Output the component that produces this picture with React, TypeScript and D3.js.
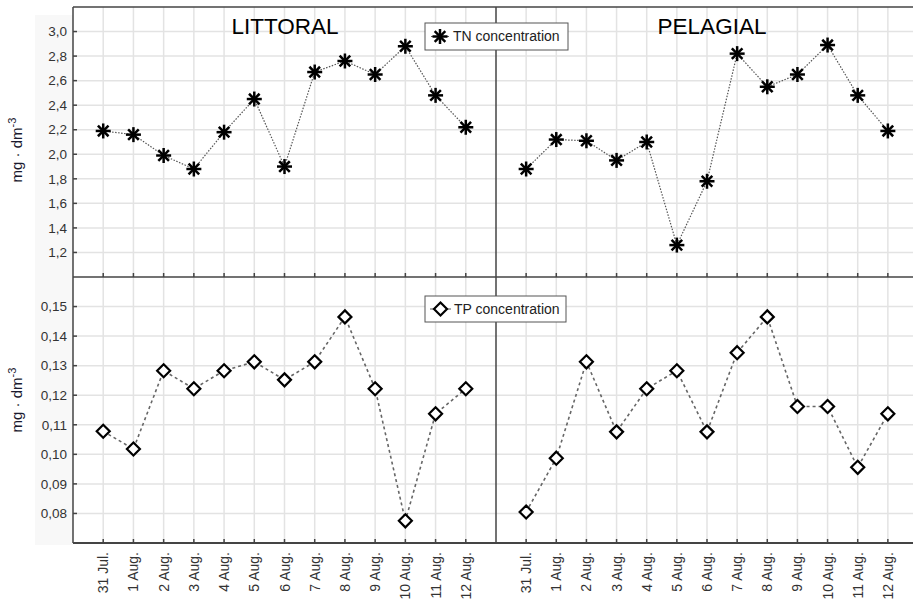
import React from "react";
import * as d3 from "d3";

const dates = ["31 Jul.", "1 Aug.", "2 Aug.", "3 Aug.", "4 Aug.", "5 Aug.", "6 Aug.", "7 Aug.", "8 Aug.", "9 Aug.", "10 Aug.", "11 Aug.", "12 Aug."];

const tnLittoral = [2.19, 2.16, 1.99, 1.88, 2.18, 2.45, 1.9, 2.67, 2.76, 2.65, 2.88, 2.48, 2.22];
const tnPelagial = [1.88, 2.12, 2.11, 1.95, 2.1, 1.26, 1.78, 2.82, 2.55, 2.65, 2.89, 2.48, 2.19];
const tpLittoral = [0.1078, 0.1018, 0.1283, 0.1222, 0.1283, 0.1313, 0.1252, 0.1313, 0.1465, 0.1222, 0.0775, 0.1137, 0.1222];
const tpPelagial = [0.0805, 0.0987, 0.1313, 0.1076, 0.1222, 0.1283, 0.1076, 0.1344, 0.1465, 0.1162, 0.1162, 0.0956, 0.1137];

const tnTicks = [1.2, 1.4, 1.6, 1.8, 2.0, 2.2, 2.4, 2.6, 2.8, 3.0];
const tpTicks = [0.08, 0.09, 0.1, 0.11, 0.12, 0.13, 0.14, 0.15];

const W = 913;
const H = 603;
const left = 73;
const mid = 496;
const right = 918;
const top = 7;
const split = 277;
const bottom = 543;

const FONT = "Arial, 'Liberation Sans', sans-serif";

const yTN = d3.scaleLinear().domain([1.0, 3.2]).range([split, top]);
const yTP = d3.scaleLinear().domain([0.07, 0.16]).range([bottom, split]);

const xLeft = d3.scalePoint<string>().domain(dates).range([left, mid]).padding(1);
const xRight = d3.scalePoint<string>().domain(dates).range([mid, right]).padding(1);

const fmt1 = (v: number) => v.toFixed(1).replace(".", ",");
const fmt2 = (v: number) => v.toFixed(2).replace(".", ",");

function Asterisk({ x, y }: { x: number; y: number }) {
  const r = 7.5;
  const angles = [0, 45, 90, 135];
  return (
    <g transform={`translate(${x},${y})`}>
      {angles.map((a) => {
        const rad = (a * Math.PI) / 180;
        return (
          <line
            key={a}
            x1={-r * Math.cos(rad)}
            y1={-r * Math.sin(rad)}
            x2={r * Math.cos(rad)}
            y2={r * Math.sin(rad)}
            stroke="#000"
            strokeWidth={2.5}
          />
        );
      })}
    </g>
  );
}

function Diamond({ x, y }: { x: number; y: number }) {
  const r = 6.5;
  return (
    <path
      d={`M${x},${y - r}L${x + r},${y}L${x},${y + r}L${x - r},${y}Z`}
      fill="#fff"
      stroke="#000"
      strokeWidth={2.2}
    />
  );
}

export default function App() {
  const lineTN = (x: d3.ScalePoint<string>) =>
    d3.line<number>().x((_, i) => x(dates[i]) as number).y((v) => yTN(v));
  const lineTP = (x: d3.ScalePoint<string>) =>
    d3.line<number>().x((_, i) => x(dates[i]) as number).y((v) => yTP(v));

  const grid = "#e3e3e3";
  const axis = "#444";

  return (
    <svg
      width={W}
      height={H}
      style={{ position: "absolute", left: 0, top: 0, background: "#fff" }}
      fontFamily={FONT}
    >
      <rect x={0} y={0} width={W} height={H} fill="#fff" />
      <rect x={35} y={15} width={38} height={530} fill="#f8f8f8" />

      {/* grid */}
      {[xLeft, xRight].map((x, k) =>
        dates.map((d) => (
          <line key={`g${k}${d}`} x1={x(d)} x2={x(d)} y1={top} y2={bottom} stroke={grid} strokeWidth={1.5} />
        ))
      )}
      {tnTicks.map((t) => (
        <line key={`tn${t}`} x1={left} x2={W} y1={yTN(t)} y2={yTN(t)} stroke={grid} strokeWidth={1.5} />
      ))}
      {tpTicks.map((t) => (
        <line key={`tp${t}`} x1={left} x2={W} y1={yTP(t)} y2={yTP(t)} stroke={grid} strokeWidth={1.5} />
      ))}

      {/* frame */}
      <line x1={left} x2={W} y1={top} y2={top} stroke={axis} strokeWidth={1.5} />
      <line x1={left} x2={W} y1={split} y2={split} stroke={axis} strokeWidth={1.5} />
      <line x1={left} x2={W} y1={bottom} y2={bottom} stroke={axis} strokeWidth={2} />
      <line x1={left} x2={left} y1={top} y2={bottom} stroke={axis} strokeWidth={1.5} />
      <line x1={mid} x2={mid} y1={top} y2={bottom} stroke={axis} strokeWidth={1.5} />

      {/* x ticks */}
      {[xLeft, xRight].map((x, k) =>
        dates.map((d) => (
          <g key={`xt${k}${d}`}>
            <line x1={x(d)} x2={x(d)} y1={split} y2={split - 4} stroke={axis} strokeWidth={1.5} />
            <line x1={x(d)} x2={x(d)} y1={bottom} y2={bottom - 4} stroke={axis} strokeWidth={1.5} />
          </g>
        ))
      )}

      {/* y ticks and labels */}
      {tnTicks.map((t) => (
        <g key={`tnl${t}`}>
          <line x1={left} x2={left + 4} y1={yTN(t)} y2={yTN(t)} stroke={axis} strokeWidth={1.5} />
          <text x={67} y={yTN(t)} dy="0.35em" textAnchor="end" fontSize={13.5} fill="#333">
            {fmt1(t)}
          </text>
        </g>
      ))}
      {tpTicks.map((t) => (
        <g key={`tpl${t}`}>
          <line x1={left} x2={left + 4} y1={yTP(t)} y2={yTP(t)} stroke={axis} strokeWidth={1.5} />
          <text x={67} y={yTP(t)} dy="0.35em" textAnchor="end" fontSize={13.5} fill="#333">
            {fmt2(t)}
          </text>
        </g>
      ))}

      {/* y axis titles */}
      {[150, 400].map((cy, i) => (
        <text
          key={`yt${i}`}
          transform={`translate(22,${cy}) rotate(-90)`}
          textAnchor="middle"
          fontSize={15}
          fill="#1a1a2e"
        >
          mg · dm<tspan dy={-6} fontSize={11}>-3</tspan>
        </text>
      ))}

      {/* x labels */}
      {[xLeft, xRight].map((x, k) =>
        dates.map((d) => (
          <text
            key={`xl${k}${d}`}
            transform={`translate(${(x(d) as number) + 5},552) rotate(-90)`}
            textAnchor="end"
            fontSize={14}
            fill="#333"
          >
            {d}
          </text>
        ))
      )}

      {/* panel titles */}
      <text x={285} y={34} textAnchor="middle" fontSize={22.5} fill="#000">LITTORAL</text>
      <text x={712} y={34} textAnchor="middle" fontSize={22.5} fill="#000">PELAGIAL</text>

      {/* TN series */}
      <path d={lineTN(xLeft)(tnLittoral) ?? ""} fill="none" stroke="#555" strokeWidth={1.2} strokeDasharray="1.5,1.5" />
      <path d={lineTN(xRight)(tnPelagial) ?? ""} fill="none" stroke="#555" strokeWidth={1.2} strokeDasharray="1.5,1.5" />
      {tnLittoral.map((v, i) => (
        <Asterisk key={`al${i}`} x={xLeft(dates[i]) as number} y={yTN(v)} />
      ))}
      {tnPelagial.map((v, i) => (
        <Asterisk key={`ap${i}`} x={xRight(dates[i]) as number} y={yTN(v)} />
      ))}

      {/* TP series */}
      <path d={lineTP(xLeft)(tpLittoral) ?? ""} fill="none" stroke="#666" strokeWidth={1.6} strokeDasharray="3,3" />
      <path d={lineTP(xRight)(tpPelagial) ?? ""} fill="none" stroke="#666" strokeWidth={1.6} strokeDasharray="3,3" />
      {tpLittoral.map((v, i) => (
        <Diamond key={`dl${i}`} x={xLeft(dates[i]) as number} y={yTP(v)} />
      ))}
      {tpPelagial.map((v, i) => (
        <Diamond key={`dp${i}`} x={xRight(dates[i]) as number} y={yTP(v)} />
      ))}

      {/* legends */}
      <g>
        <rect x={425} y={23} width={143} height={27} fill="#fff" stroke="#555" strokeWidth={1} />
        <line x1={431} x2={449} y1={36.5} y2={36.5} stroke="#555" strokeWidth={1} />
        <Asterisk x={440} y={36.5} />
        <text x={453} y={36.5} dy="0.35em" fontSize={14} fill="#222">TN concentration</text>
      </g>
      <g>
        <rect x={425} y={296} width={141} height={26} fill="#fff" stroke="#555" strokeWidth={1} />
        <line x1={430} x2={451} y1={309} y2={309} stroke="#555" strokeWidth={1} />
        <Diamond x={440.5} y={309} />
        <text x={454} y={309} dy="0.35em" fontSize={14} fill="#222">TP concentration</text>
      </g>
    </svg>
  );
}
